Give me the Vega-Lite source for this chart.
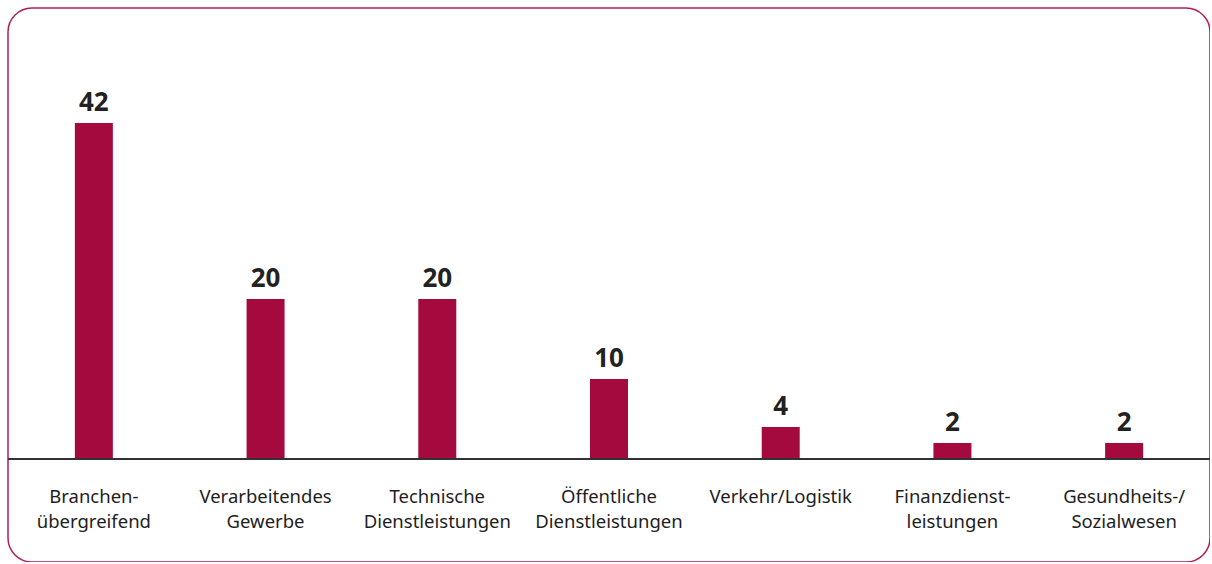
{
  "$schema": "https://vega.github.io/schema/vega-lite/v6.json",
  "autosize": {"type": "none"},
  "padding": {"left": 8, "top": 8, "right": 0, "bottom": 0},
  "width": 1202,
  "height": 554,
  "background": "white",
  "config": {
    "view": {"stroke": "#b0204f", "strokeWidth": 1.5, "cornerRadius": 24},
    "font": "Noto Sans"
  },
  "data": {
    "values": [
      {"kategorie": "Branchen-\nübergreifend", "wert": 42},
      {"kategorie": "Verarbeitendes\nGewerbe", "wert": 20},
      {"kategorie": "Technische\nDienstleistungen", "wert": 20},
      {"kategorie": "Öffentliche\nDienstleistungen", "wert": 10},
      {"kategorie": "Verkehr/Logistik", "wert": 4},
      {"kategorie": "Finanzdienst-\nleistungen", "wert": 2},
      {"kategorie": "Gesundheits-/\nSozialwesen", "wert": 2}
    ]
  },
  "encoding": {
    "x": {"field": "kategorie", "type": "nominal", "sort": null, "axis": null,
          "scale": {"paddingInner": 0, "paddingOuter": 0}}
  },
  "layer": [
    {
      "mark": {"type": "bar", "color": "#a50a3f", "width": 38},
      "encoding": {
        "y": {"field": "wert", "type": "quantitative", "axis": null,
              "scale": {"domain": [-12.875, 56.375], "nice": false, "zero": false}}
      }
    },
    {
      "mark": {"type": "text", "baseline": "bottom", "dy": -7, "fontSize": 26, "fontWeight": "bold", "color": "#222222"},
      "encoding": {
        "y": {"field": "wert", "type": "quantitative"},
        "text": {"field": "wert", "type": "quantitative"}
      }
    },
    {
      "mark": {"type": "text", "baseline": "top", "fontSize": 18.5, "color": "#1e1e1e", "lineBreak": "\n", "lineHeight": 25},
      "encoding": {
        "y": {"datum": -3.6, "type": "quantitative"},
        "text": {"field": "kategorie", "type": "nominal"}
      }
    },
    {
      "mark": {"type": "rule", "color": "#333333", "strokeWidth": 1.5},
      "encoding": {
        "y": {"datum": 0, "type": "quantitative"},
        "x": {"value": 0},
        "x2": {"value": 1202}
      }
    }
  ]
}
